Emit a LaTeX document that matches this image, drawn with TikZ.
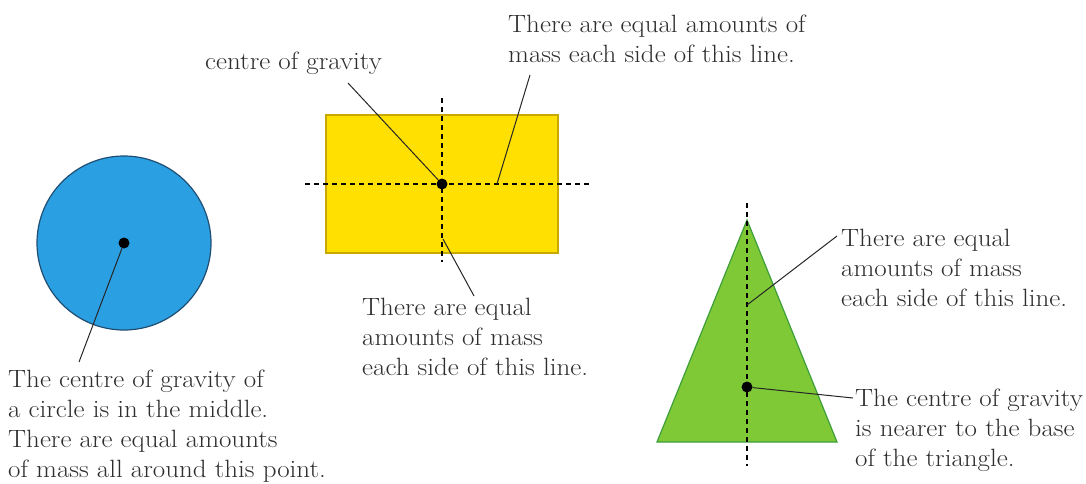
\documentclass[tikz,border=0pt]{standalone}
\usepackage{fontspec}
\newfontfamily\lblfont{Latin Modern Roman}[FakeStretch=1.08]
\begin{document}
\begin{tikzpicture}[x=1pt,y=-1pt,
  lbl/.style={anchor=north west,inner sep=0pt,align=left,text=txt,font=\lblfont\fontsize{25}{30}\selectfont},
  cog/.style={circle,fill=black,inner sep=0pt,minimum size=11pt},
  leader/.style={draw=black!85,line width=1pt},
  axis/.style={draw=black,line width=1.1pt,dash pattern=on 5pt off 4pt}]
\definecolor{txt}{HTML}{2E2E2E}
\definecolor{blue1}{HTML}{2A9FE2}
\definecolor{blueb}{HTML}{1F4E73}
\definecolor{yel}{HTML}{FFE000}
\definecolor{yelb}{HTML}{C9A900}
\definecolor{grn}{HTML}{7FC936}
\definecolor{grnb}{HTML}{3E9E3A}
\useasboundingbox (0,0) rectangle (1086,483);
% circle
\draw[fill=blue1,draw=blueb,line width=1.2pt] (124,243) circle (87);
\node[cog] (c1) at (124,243) {};
\coordinate (c1e) at (79,362);
\draw[leader] (c1) -- (c1e);
\node[lbl] (t1) at (8,370) {The centre of gravity of\\a circle is in the middle.\\There are equal amounts\\of mass all around this point.};
% rectangle
\draw[fill=yel,draw=yelb,line width=1.2pt] (326,115) rectangle (558,253);
\draw[axis] (305,184) -- (590,184);
\draw[axis] (442,98) -- (442,262);
\node[cog] (c2) at (442,184) {};
\node[lbl] (t2) at (205,52) {centre of gravity};
\coordinate (t2e) at (348,83);
\draw[leader] (t2e) -- (c2);
\node[lbl] (t3) at (508,15) {There are equal amounts of\\mass each side of this line.};
\coordinate (t3e) at (530,75);
\coordinate (h3) at (497,184);
\draw[leader] (t3e) -- (h3);
\node[lbl] (t4) at (362,298) {There are equal\\amounts of mass\\each side of this line.};
\coordinate (t4e) at (474,296);
\coordinate (v4) at (443,239);
\draw[leader] (v4) -- (t4e);
% triangle
\draw[fill=grn,draw=grnb,line width=1.2pt] (747,220) -- (837,442) -- (657,442) -- cycle;
\draw[axis] (747,203) -- (747,466);
\node[cog] (c3) at (747,387) {};
\coordinate (v5) at (747,305);
\coordinate (t5e) at (837,236);
\draw[leader] (v5) -- (t5e);
\node[lbl] (t5) at (841,229) {There are equal\\amounts of mass\\each side of this line.};
\coordinate (t6e) at (853,398);
\draw[leader] (c3) -- (t6e);
\node[lbl] (t6) at (855,389) {The centre of gravity\\is nearer to the base\\of the triangle.};
\end{tikzpicture}
\end{document}
